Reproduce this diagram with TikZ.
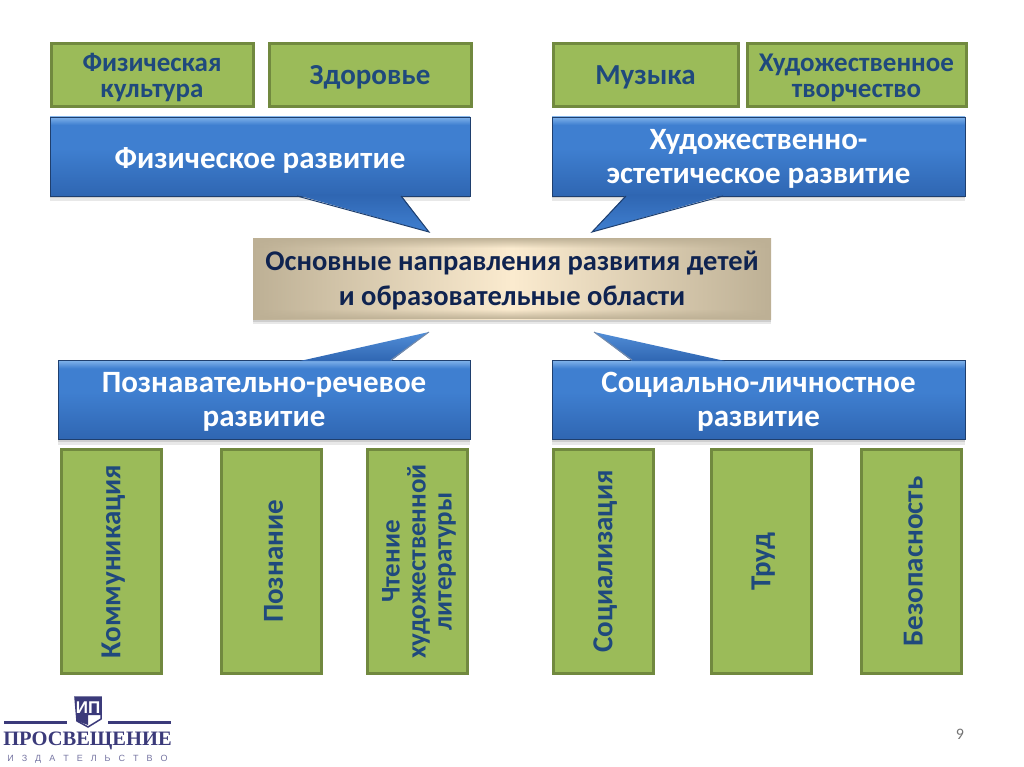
\documentclass[tikz,border=0pt]{standalone}
\usepackage{fontspec}
\setmainfont{Carlito}
\newfontfamily\logoserif{Liberation Serif}
\newfontfamily\logosans{Liberation Sans}
\usetikzlibrary{shadows, fadings}
\definecolor{greenfill}{HTML}{9BBB59}
\definecolor{greenedge}{HTML}{71893F}
\definecolor{greentext}{HTML}{1F497D}
\definecolor{bluetop}{HTML}{7FB2EA}
\definecolor{bluemid}{HTML}{3F7FD0}
\definecolor{bluelow}{HTML}{2F66B2}
\definecolor{blueedge}{HTML}{1F3F6E}
\definecolor{tanedge}{HTML}{BDB095}
\definecolor{tanmid}{HTML}{FBEBCF}
\definecolor{titletext}{HTML}{0F2350}
\definecolor{logoblue}{HTML}{3B3A7A}
\pgfdeclareverticalshading{bluebox}{100bp}{color(0bp)=(bluelow); color(25bp)=(bluelow); color(55bp)=(bluemid); color(70bp)=(bluemid); color(75bp)=(bluetop); color(100bp)=(bluetop)}
\pgfdeclareverticalshading{bluetail}{100bp}{color(0bp)=(bluemid); color(25bp)=(bluemid); color(75bp)=(bluelow); color(100bp)=(bluelow)}
\pgfdeclareverticalshading{bluetailup}{100bp}{color(0bp)=(bluelow); color(25bp)=(bluelow); color(75bp)=(bluemid!70!bluetop); color(100bp)=(bluemid!70!bluetop)}
\newcommand{\topgap}[1][.8em]{\rule{0pt}{#1}}
\tikzstyle{area} = [rectangle, draw=greenedge, line width=3pt, fill=greenfill, text=greentext, font=\fontsize{27}{26}\selectfont\bfseries, align=center, inner sep=0pt, minimum height=63pt]
\tikzstyle{single} = [font=\fontsize{29}{26}\selectfont\bfseries]
\tikzstyle{tallarea} = [area, rotate=90, minimum width=224pt, minimum height=100pt]
\tikzstyle{branch} = [rectangle, shading=bluebox, draw=blueedge, line width=.8pt, text=white, font=\fontsize{31}{34}\selectfont\bfseries, align=center, inner sep=0pt, minimum height=79pt, drop shadow={opacity=.18, shadow xshift=0pt, shadow yshift=-5pt}, drop shadow={opacity=.25, shadow xshift=0pt, shadow yshift=-2.5pt}]
\tikzstyle{tail} = [shading=bluetail]
\tikzstyle{tailup} = [shading=bluetailup]
\tikzstyle{tailedge} = [draw=blueedge, line width=1pt]

\begin{document}
\begin{tikzpicture}[x=1pt, y=-1pt, node distance=218pt]
	\useasboundingbox (0,0) rectangle (1024,767);
	% top row
	\node (culture) [area, minimum width=202pt] at (152,75.5) {\topgap Физическая\\культура};
	\node (health) [area, single, minimum width=202pt, right of=culture] {\topgap Здоровье};
	\node (music) [area, single, minimum width=185pt, right of=health, xshift=57.5pt] {\topgap Музыка};
	\node (art) [area, minimum width=219pt, right of=music, xshift=-7pt] {\topgap Художественное\\творчество};
	% blue boxes
	\node (physical) [branch, minimum width=420pt] at (260,156.5) {\topgap[.9em]Физическое развитие};
	\node (aesthetic) [branch, minimum width=413pt] at (758.5,156.5) {\topgap Художественно-\\эстетическое развитие};
	\node (cognitive) [branch, minimum width=412pt] at (264,400) {\topgap Познавательно-речевое\\развитие};
	\node (social) [branch, minimum width=413pt] at (758.5,400) {\topgap Социально-личностное\\развитие};
	% tails
	\coordinate (tipa) at (429,232);
	\coordinate (tipb) at (592,232);
	\coordinate (tipc) at (429,332);
	\coordinate (tipd) at (594,332);
	\path [tail] (297,195) -- (tipa) -- (401,195) -- cycle;
	\path [tail] (626,195) -- (tipb) -- (723,195) -- cycle;
	\path [tailup] (300,361) -- (tipc) -- (391,361) -- cycle;
	\path [tailup] (632,361) -- (tipd) -- (725,361) -- cycle;
	\draw [tailedge] (297,196) -- (tipa) -- (401,196);
	\draw [tailedge] (626,196) -- (tipb) -- (723,196);
	\draw [tailedge, blueedge!60] (391,360) -- (tipc);
	\draw [tailedge, blueedge!60] (632,360) -- (tipd);
	% centre
	\node (main) [rectangle, left color=tanedge, right color=tanedge, middle color=tanmid, minimum width=518pt, minimum height=81pt, inner sep=0pt, text=titletext, font=\fontsize{28.5}{35}\selectfont\bfseries, align=center, drop shadow={opacity=.18, shadow xshift=0pt, shadow yshift=-5pt}, drop shadow={opacity=.25, shadow xshift=0pt, shadow yshift=-2.5pt}] at (512,278.5) {\topgap Основные направления развития детей\\и образовательные области};
	\fill [tanedge, path fading=south] (main.north west) rectangle ([yshift=-10pt]main.north east);
	\fill [tanedge, path fading=north] ([yshift=10pt]main.south west) rectangle (main.south east);
	% bottom row
	\node (talk) [tallarea, single] at (111,561.5) {\topgap Коммуникация};
	\node (knowledge) [tallarea, single] at (271.5,561.5) {\topgap Познание};
	\node (reading) [tallarea] at (417,561.5) {\topgap Чтение\\художественной\\литературы};
	\node (society) [tallarea, single] at (603,561.5) {\topgap Социализация};
	\node (labour) [tallarea, single] at (761,561.5) {\topgap Труд};
	\node (safety) [tallarea, single] at (911,561.5) {\topgap Безопасность};
	% publisher mark
	\coordinate (shielda) at (75,697);
	\coordinate (shieldb) at (101,697);
	\coordinate (shieldc) at (101,719);
	\coordinate (shieldd) at (88,727);
	\coordinate (shielde) at (77,721);
	\path [fill=white, draw=logoblue, line width=1.5pt] (shielda) -- (shieldb) -- (shieldc) -- (shieldd) -- (shielde) -- cycle;
	\path [fill=logoblue] (shielda) -- (shieldb) -- (101,715) -- (88,715) -- (88,725) -- (77,721) -- cycle;
	\node (mark) [text=white, inner sep=0pt, font=\logosans\bfseries\fontsize{17}{17}\selectfont] at (88,708) {ИП};
	\coordinate (rulea) at (4,722);
	\coordinate (ruleb) at (67,722);
	\coordinate (rulec) at (108,722);
	\coordinate (ruled) at (171,722);
	\draw [logoblue, line width=3pt] (rulea) -- (ruleb);
	\draw [logoblue, line width=3pt] (rulec) -- (ruled);
	\node (publisher) [text=logoblue, inner sep=0pt, font=\logoserif\bfseries\fontsize{20.5}{21}\selectfont] at (87.5,741) {ПРОСВЕЩЕНИЕ};
	\node (house) [text=logoblue!70, inner sep=0pt, font=\logosans\fontsize{9}{9}\selectfont] at (87.5,759) {И\hskip 8pt З\hskip 8pt Д\hskip 8pt А\hskip 8pt Т\hskip 8pt Е\hskip 8pt Л\hskip 8pt Ь\hskip 8pt С\hskip 8pt Т\hskip 8pt В\hskip 8pt О};
	% slide number
	\node (page) [text=black!55, inner sep=0pt, font=\fontsize{16}{16}\selectfont] at (960,734) {9};
\end{tikzpicture}
\end{document}
